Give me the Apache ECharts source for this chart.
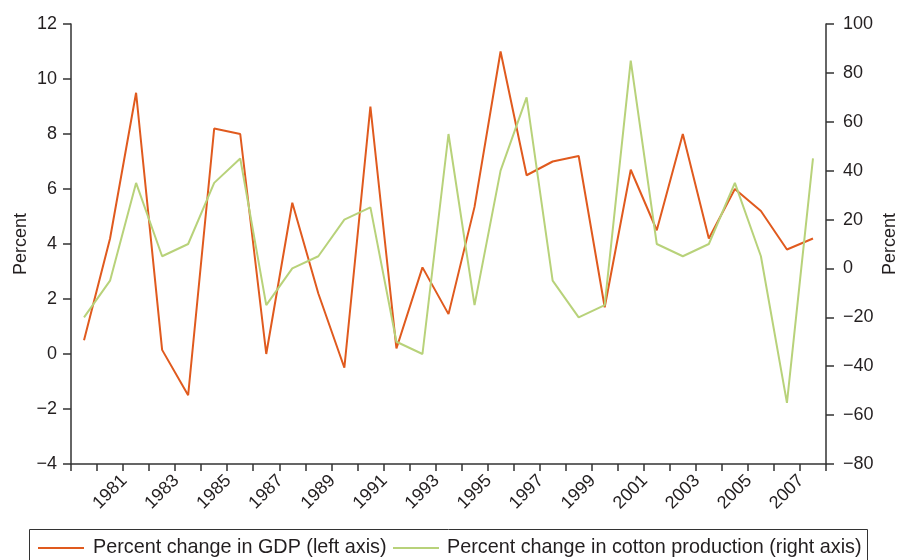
<!DOCTYPE html>
<html>
<head>
<meta charset="utf-8">
<style>
  html, body { margin: 0; padding: 0; background: #ffffff; }
  #chart { width: 897px; height: 560px; }
</style>
<script src="https://cdn.jsdelivr.net/npm/echarts@6/dist/echarts.min.js"></script>
</head>
<body>
<div id="chart"></div>
<script>
const years = ['1980','1981','1982','1983','1984','1985','1986','1987','1988','1989',
  '1990','1991','1992','1993','1994','1995','1996','1997','1998','1999',
  '2000','2001','2002','2003','2004','2005','2006','2007','2008'];
const gdpChange = [0.5, 4.2, 9.5, 0.15, -1.5, 8.2, 8.0, 0.0, 5.5, 2.2,
  -0.5, 9.0, 0.2, 3.15, 1.45, 5.35, 11.0, 6.5, 7.0, 7.2,
  1.7, 6.7, 4.5, 8.0, 4.2, 6.0, 5.2, 3.8, 4.2];
const cottonChange = [-20, -5, 35, 5, 10, 35, 45, -15, 0, 5,
  20, 25, -30, -35, 55, -15, 40, 70, -5, -20,
  -15, 85, 10, 5, 10, 35, 5, -55, 45];
const gdpName = 'Percent change in GDP (left axis)';
const cottonName = 'Percent change in cotton production (right axis)';
const axisName = 'Percent';

const textColor = '#231F20';
const axisColor = '#333333';
const font = 'Liberation Sans, Arial, sans-serif';
const minus = v => String(v).replace('-', '\u2212');

const chart = echarts.init(document.getElementById('chart'), null, { renderer: 'canvas' });
chart.setOption({
  animation: false,
  backgroundColor: '#ffffff',
  textStyle: { fontFamily: font, color: textColor },
  grid: { left: 71, right: 71, top: 24, bottom: 96, containLabel: false, outerBoundsMode: 'none' },
  graphic: [{
    type: 'rect',
    shape: { x: 29.5, y: 529.5, width: 838, height: 60 },
    style: { fill: 'none', stroke: axisColor, lineWidth: 1 },
    silent: true
  }],
  legend: [
    {
      data: [gdpName], left: 38, top: 538, padding: 0,
      icon: 'rect', itemWidth: 46, itemHeight: 2,
      textStyle: { fontSize: 19.8, color: textColor, fontFamily: font, padding: [0, 0, 0, 4] }
    },
    {
      data: [cottonName], left: 393, top: 538, padding: 0,
      icon: 'rect', itemWidth: 46, itemHeight: 2,
      textStyle: { fontSize: 19.8, color: textColor, fontFamily: font, padding: [0, 0, 0, 3] }
    }
  ],
  xAxis: {
    type: 'category',
    data: years,
    boundaryGap: true,
    axisLine: { onZero: false, lineStyle: { color: axisColor, width: 1.5 } },
    axisTick: { show: true, interval: 0, length: 7, lineStyle: { color: axisColor, width: 1.5 } },
    axisLabel: {
      interval: (index) => index % 2 === 1,
      rotate: 45,
      align: 'center',
      verticalAlign: 'middle',
      margin: 28,
      fontSize: 18,
      color: textColor,
      fontFamily: font
    },
    splitLine: { show: false }
  },
  yAxis: [
    {
      type: 'value',
      position: 'left',
      min: -4, max: 12, interval: 2,
      name: axisName,
      nameLocation: 'middle',
      nameRotate: 90,
      nameGap: 41,
      nameMoveOverlap: false,
      nameTextStyle: { fontSize: 18, color: textColor, fontFamily: font },
      axisLine: { show: true, lineStyle: { color: axisColor, width: 1.5 } },
      axisTick: { show: true, length: 8, lineStyle: { color: axisColor, width: 1.5 } },
      axisLabel: { margin: 14, fontSize: 18, color: textColor, fontFamily: font, formatter: minus },
      splitLine: { show: false }
    },
    {
      type: 'value',
      position: 'right',
      min: -80, max: 100, interval: 20,
      name: axisName,
      nameLocation: 'middle',
      nameRotate: 90,
      nameGap: 55,
      nameMoveOverlap: false,
      nameTextStyle: { fontSize: 18, color: textColor, fontFamily: font },
      axisLine: { show: true, lineStyle: { color: axisColor, width: 1.5 } },
      axisTick: { show: true, length: 8, lineStyle: { color: axisColor, width: 1.5 } },
      axisLabel: { margin: 17, fontSize: 18, color: textColor, fontFamily: font, formatter: minus },
      splitLine: { show: false }
    }
  ],
  series: [
    {
      name: gdpName,
      type: 'line',
      yAxisIndex: 0,
      data: gdpChange,
      symbol: 'none',
      color: '#E05A1E',
      lineStyle: { color: '#E05A1E', width: 2 }
    },
    {
      name: cottonName,
      type: 'line',
      yAxisIndex: 1,
      data: cottonChange,
      symbol: 'none',
      color: '#B8D27A',
      lineStyle: { color: '#B8D27A', width: 2 }
    }
  ]
});
</script>
</body>
</html>
